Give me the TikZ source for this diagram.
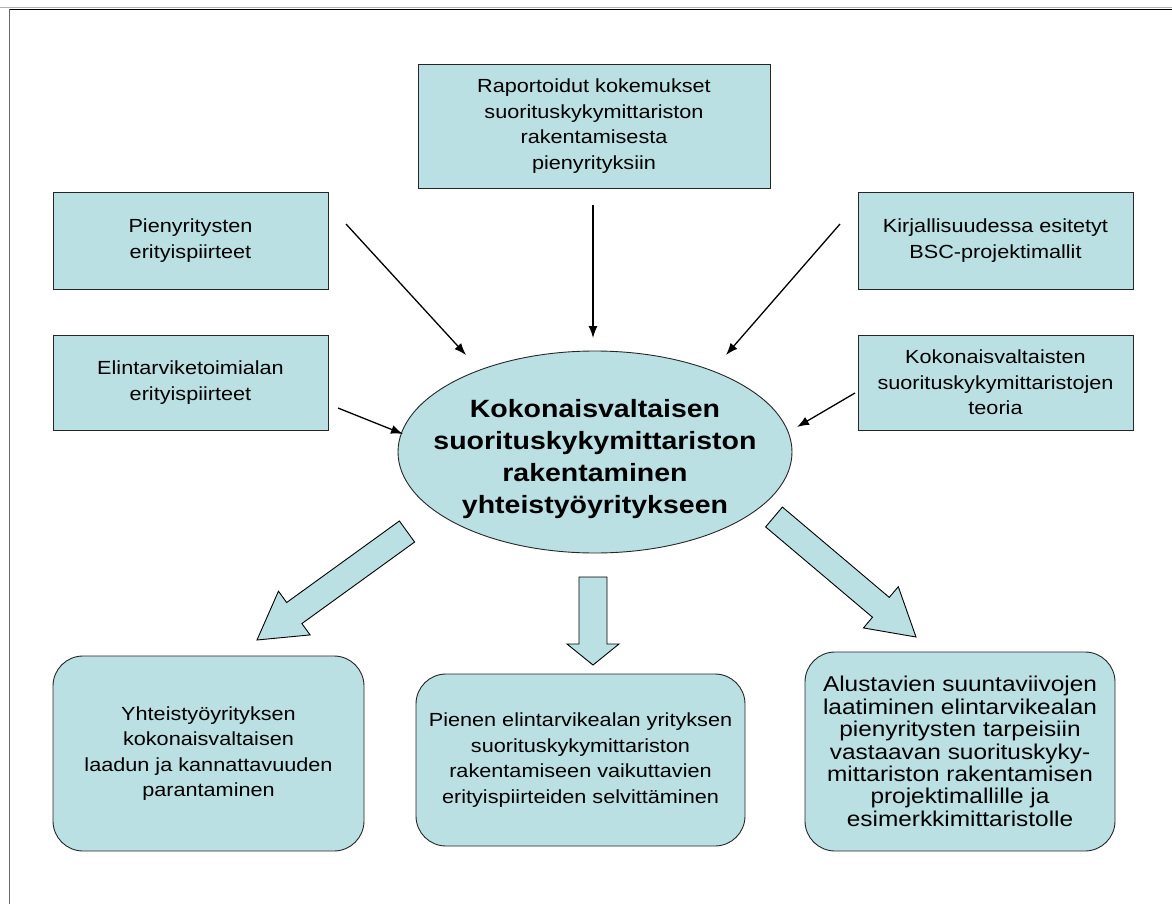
\documentclass[tikz,border=0pt]{standalone}
\usepackage{fontspec}
\setmainfont{Liberation Sans}[FakeStretch=1.14]
\usetikzlibrary{calc,arrows.meta,shapes.geometric}
\definecolor{boxfill}{HTML}{BBE0E3}
\tikzset{
  infobox/.style={draw=black!85, line width=0.9pt, fill=boxfill, align=center,
    inner sep=0pt, font=\fontsize{19}{25.5}\selectfont},
  goalbox/.style={infobox, rounded corners=30pt},
  hub/.style={ellipse, draw=black!85, line width=0.9pt, fill=boxfill, inner sep=0pt},
  hubtext/.style={align=center, inner sep=0pt, font=\bfseries\fontsize{25}{32}\selectfont},
  feed/.style={line width=1.3pt, -{Latex[length=12pt,width=9pt]}},
  fat/.style={draw=black, line width=0.9pt, fill=boxfill, line join=miter},
}
% block arrow: tail, tip, shaft half-width, head half-width, head length
\newcommand\fatarrow[5]{%
  \coordinate (fa-n) at ($(#2)!#5!(#1)$);
  \draw[fat] ($(#1)!#3!90:(#2)$) -- ($(fa-n)!#3!90:(#2)$) -- ($(fa-n)!#4!90:(#2)$)
    -- (#2) -- ($(fa-n)!#4!-90:(#2)$) -- ($(fa-n)!#3!-90:(#2)$)
    -- ($(#1)!#3!-90:(#2)$) -- cycle;}
\begin{document}
\begin{tikzpicture}[x=1pt,y=-1pt]
\useasboundingbox (0,0) rectangle (1172,904);
% page frame (top and left edges)
\draw[black!30, line width=1pt] (0,8) -- (1172,8);
\draw[black, line width=1.2pt] (9.5,9.5) -- (1172,9.5);
\draw[black!60, line width=1pt] (9.5,9.5) -- (9.5,904);

% inputs
\node[infobox, minimum width=352pt, minimum height=124pt] (rap) at (594,126)
  {Raportoidut kokemukset\\suorituskykymittariston\\rakentamisesta\\pienyrityksiin};
\node[infobox, minimum width=275pt, minimum height=97pt] (pien) at (190.5,240.5)
  {Pienyritysten\\erityispiirteet};
\node[infobox, minimum width=275pt, minimum height=97pt] (kirj) at (995.5,240.5)
  {Kirjallisuudessa esitetyt\\BSC-projektimallit};
\node[infobox, minimum width=275pt, minimum height=95pt] (elin) at (190.5,382.5)
  {Elintarviketoimialan\\erityispiirteet};
\node[infobox, minimum width=275pt, minimum height=95pt] (koko) at (995.5,382.5)
  {Kokonaisvaltaisten\\suorituskykymittaristojen\\teoria};

% central ellipse and its title
\node[hub, minimum width=394pt, minimum height=202pt] (hub) at (595,452) {};
\node[hubtext] (hubtxt) at ([yshift=-7pt]hub.center)
  {Kokonaisvaltaisen\\suorituskykymittariston\\rakentaminen\\yhteistyöyritykseen};

% outcomes
\node[goalbox, minimum width=311pt, minimum height=195pt] (g1) at (208.5,753.5)
  {Yhteistyöyrityksen\\kokonaisvaltaisen\\laadun ja kannattavuuden\\parantaminen};
\node[goalbox, minimum width=329pt, minimum height=172pt] (g2) at (580.5,760)
  {Pienen elintarvikealan yrityksen\\suorituskykymittariston\\rakentamiseen vaikuttavien\\erityispiirteiden selvittäminen};
\node[goalbox, minimum width=310pt, minimum height=199pt, font=\fontsize{21.4}{22.4}\selectfont] (g3) at (960,751.5)
  {Alustavien suuntaviivojen\\laatiminen elintarvikealan\\pienyritysten tarpeisiin\\vastaavan suorituskyky-\\mittariston rakentamisen\\projektimallille ja\\esimerkkimittaristolle};

% feeding arrows
\coordinate (rapS) at (593,205);  \coordinate (rapE) at (593,338);
\coordinate (pienS) at (346,224); \coordinate (pienE) at (466,355);
\coordinate (kirjS) at (840,224); \coordinate (kirjE) at (726,355);
\coordinate (elinS) at (338,408); \coordinate (elinE) at (403,434);
\coordinate (kokoS) at (855,393); \coordinate (kokoE) at (797,427);
\draw[feed] (rapS) -- (rapE);
\draw[feed] (pienS) -- (pienE);
\draw[feed] (kirjS) -- (kirjE);
\draw[feed] (elinS) -- (elinE);
\draw[feed] (kokoS) -- (kokoE);

% outcome arrows
\coordinate (o1t) at (407,531.5); \coordinate (o1h) at (257,640);
\coordinate (o2t) at (593,577);   \coordinate (o2h) at (593,665);
\coordinate (o3t) at (774,517);   \coordinate (o3h) at (916,637);
\fatarrow{o1t}{o1h}{13pt}{27pt}{46pt}
\fatarrow{o2t}{o2h}{14pt}{26pt}{21pt}
\fatarrow{o3t}{o3h}{13pt}{27pt}{46pt}
\end{tikzpicture}
\end{document}
